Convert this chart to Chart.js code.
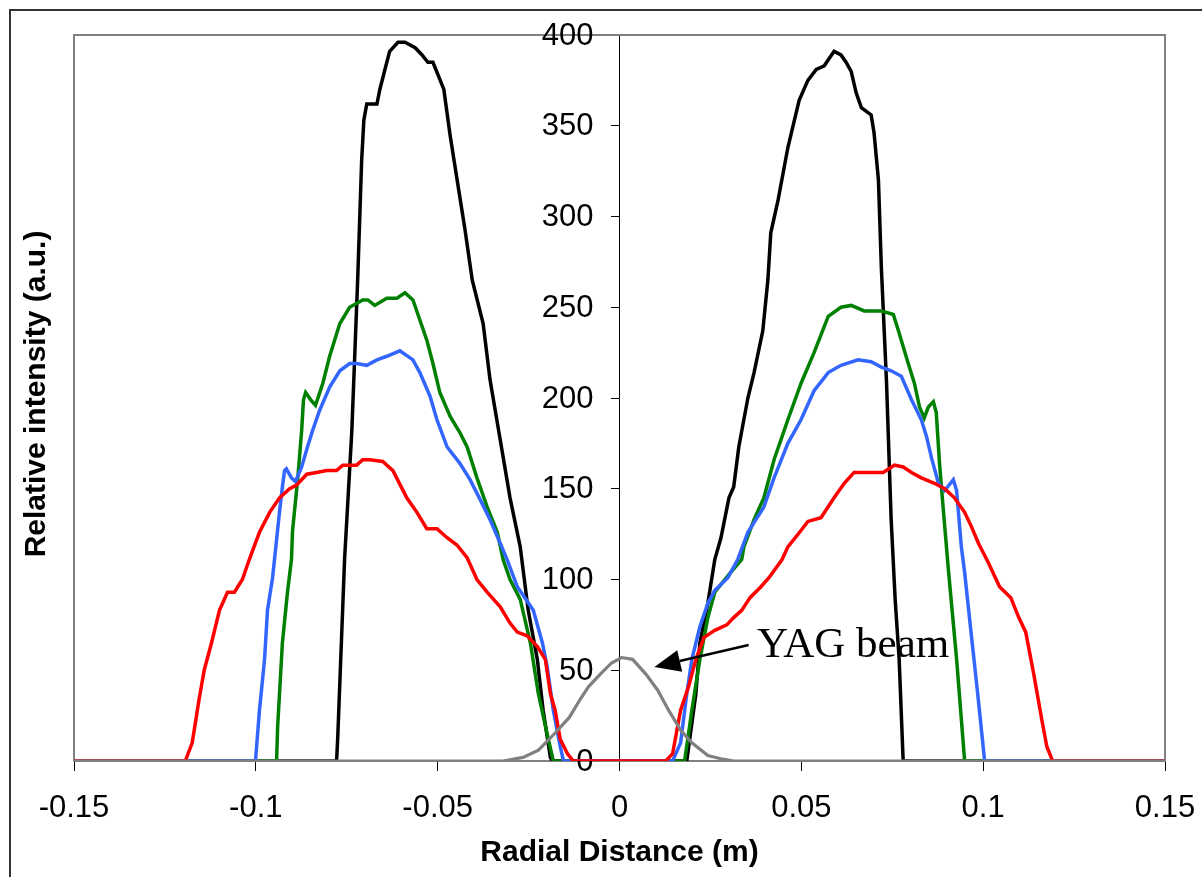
<!DOCTYPE html>
<html lang="en">
<head>
  <meta charset="UTF-8">
  <title>Radial intensity profiles</title>
  <style>
    body {
      margin: 0;
      padding: 0;
      background: white;
    }
    canvas {
      display: block;
    }
  </style>
  <script src="https://cdn.jsdelivr.net/npm/chart.js"></script>
</head>
<body>
  <canvas id="profileChart" width="1202" height="877"></canvas>

  <script>
    // values (x in m, y in a.u.)
    const xTicks = [-0.15, -0.1, -0.05, 0, 0.05, 0.1, 0.15];
    const yTicks = [0, 50, 100, 150, 200, 250, 300, 350, 400];

    const blackX = [-0.15, -0.0778, -0.0775, -0.0756, -0.0736, -0.0720, -0.0709, -0.0703, -0.0695, -0.0667,
      -0.0659, -0.0645, -0.0632, -0.0609, -0.0590, -0.0562, -0.0543, -0.0527, -0.0513, -0.0499,
      -0.0483, -0.0466, -0.0444, -0.0425, -0.0405, -0.0375, -0.0356, -0.0328, -0.0301, -0.0273,
      -0.0251, -0.0226, -0.0210, -0.0190, -0.0185, 0.0185, 0.0193, 0.0210, 0.0221, 0.0243,
      0.0262, 0.0279, 0.0301, 0.0314, 0.0328, 0.0353, 0.0370, 0.0394, 0.0408, 0.0416,
      0.0436, 0.0463, 0.0494, 0.0518, 0.0541, 0.0563, 0.0590, 0.0609, 0.0623, 0.0637,
      0.0651, 0.0665, 0.0692, 0.0700, 0.0712, 0.0720, 0.0734, 0.0747, 0.0758, 0.0769,
      0.0780, 0.15];
    const blackY = [0, 0, 12, 111, 182, 265, 331, 353, 362, 362,
      370, 381, 391, 396, 396, 393, 389, 385, 385, 378,
      370, 345, 317, 293, 265, 241, 210, 177, 145, 118,
      83, 56, 28, 2, 0, 0, 12, 37, 65, 87,
      111, 123, 145, 151, 173, 200, 214, 237, 265, 291,
      309, 338, 364, 375, 381, 383, 391, 389, 385, 380,
      368, 360, 356, 346, 320, 272, 210, 133, 89, 56,
      0, 0];

    const greenX = [-0.15, -0.0943, -0.0940, -0.0927, -0.0913, -0.0902, -0.0899, -0.0885, -0.0874, -0.0869,
      -0.0863, -0.0849, -0.0836, -0.0816, -0.0797, -0.0769, -0.0742, -0.0706, -0.0692, -0.0673,
      -0.0640, -0.0612, -0.0590, -0.0568, -0.0549, -0.0530, -0.0513, -0.0494, -0.0466, -0.0439,
      -0.0419, -0.0392, -0.0364, -0.0336, -0.0320, -0.0301, -0.0273, -0.0245, -0.0223, -0.0199,
      -0.0182, 0.0179, 0.0199, 0.0221, 0.0243, 0.0262, 0.0306, 0.0336, 0.0342, 0.0370,
      0.0397, 0.0425, 0.0463, 0.0499, 0.0535, 0.0574, 0.0609, 0.0637, 0.0673, 0.0720,
      0.0753, 0.0767, 0.0794, 0.0811, 0.0825, 0.0838, 0.0849, 0.0863, 0.0871, 0.0880,
      0.0891, 0.0905, 0.0927, 0.0949, 0.15];
    const greenY = [0, 0, 19, 65, 93, 111, 127, 155, 182, 199,
      203, 199, 196, 208, 223, 241, 250, 254, 254, 251,
      255, 255, 258, 254, 243, 232, 219, 203, 190, 181,
      173, 156, 140, 126, 111, 100, 89, 65, 37, 15,
      0, 0, 28, 56, 79, 93, 104, 111, 118, 133,
      145, 166, 188, 208, 225, 245, 250, 251, 248, 248,
      246, 237, 219, 208, 195, 189, 195, 198, 192, 164,
      137, 104, 56, 0, 0];

    const blueX = [-0.15, -0.1001, -0.0990, -0.0976, -0.0968, -0.0954, -0.0935, -0.0927, -0.0921, -0.0916,
      -0.0902, -0.0891, -0.0874, -0.0858, -0.0844, -0.0825, -0.0797, -0.0769, -0.0742, -0.0723,
      -0.0695, -0.0667, -0.0640, -0.0604, -0.0568, -0.0549, -0.0521, -0.0502, -0.0474, -0.0439,
      -0.0411, -0.0383, -0.0356, -0.0328, -0.0309, -0.0281, -0.0237, -0.0212, -0.0199, -0.0182,
      -0.0163, -0.0154, 0.0146, 0.0168, 0.0185, 0.0199, 0.0221, 0.0243, 0.0262, 0.0298,
      0.0325, 0.0353, 0.0397, 0.0425, 0.0463, 0.0499, 0.0535, 0.0574, 0.0609, 0.0656,
      0.0692, 0.0720, 0.0747, 0.0775, 0.0803, 0.0830, 0.0844, 0.0858, 0.0877, 0.0894,
      0.0918, 0.0927, 0.0932, 0.0940, 0.0949, 0.0965, 0.0985, 0.1004, 0.15];
    const blueY = [0, 0, 28, 56, 83, 101, 137, 151, 160, 161,
      156, 154, 162, 173, 182, 193, 206, 215, 219, 219,
      218, 221, 223, 226, 221, 214, 201, 188, 173, 164,
      155, 144, 133, 120, 111, 96, 83, 65, 52, 28,
      8, 0, 0, 10, 37, 56, 74, 87, 94, 101,
      111, 126, 140, 156, 175, 188, 204, 214, 218, 221,
      220, 217, 215, 212, 199, 188, 179, 167, 153, 149,
      155, 149, 137, 118, 104, 74, 37, 0, 0];

    const redX = [-0.15, -0.1194, -0.1175, -0.1156, -0.1142, -0.1122, -0.1100, -0.1078, -0.1059, -0.1037,
      -0.1018, -0.0990, -0.0962, -0.0935, -0.0907, -0.0888, -0.0860, -0.0833, -0.0805, -0.0778,
      -0.0761, -0.0723, -0.0706, -0.0687, -0.0651, -0.0623, -0.0585, -0.0557, -0.0530, -0.0502,
      -0.0474, -0.0447, -0.0419, -0.0392, -0.0364, -0.0328, -0.0301, -0.0281, -0.0254, -0.0226,
      -0.0204, -0.0190, -0.0177, -0.0163, -0.0143, -0.0127, 0.0127, 0.0146, 0.0168, 0.0190,
      0.0210, 0.0232, 0.0262, 0.0295, 0.0314, 0.0336, 0.0359, 0.0389, 0.0411, 0.0447,
      0.0463, 0.0499, 0.0518, 0.0554, 0.0590, 0.0618, 0.0645, 0.0684, 0.0725, 0.0756,
      0.0780, 0.0803, 0.0830, 0.0866, 0.0894, 0.0921, 0.0949, 0.0968, 0.0987, 0.1015,
      0.1045, 0.1076, 0.1098, 0.1117, 0.1139, 0.1161, 0.1175, 0.1191, 0.15];
    const redY = [0, 0, 10, 34, 50, 65, 83, 93, 93, 100,
      111, 126, 137, 145, 150, 152, 158, 159, 160, 160,
      163, 163, 166, 166, 165, 160, 145, 137, 128, 128,
      123, 119, 112, 100, 93, 85, 76, 71, 69, 63,
      56, 37, 28, 12, 4, 0, 0, 4, 28, 41,
      56, 68, 72, 75, 79, 83, 90, 96, 101, 111,
      118, 127, 132, 134, 145, 153, 159, 159, 159, 163,
      162, 159, 156, 153, 150, 145, 137, 129, 120, 109,
      96, 90, 79, 71, 48, 23, 8, 0, 0];

    // YAG beam profile
    const yagX = [-0.15, -0.0320, -0.0265, -0.0223, -0.0179, -0.0138, -0.0108, -0.0085, -0.0052, -0.0022,
      0.0006, 0.0036, 0.0072, 0.0105, 0.0135, 0.0168, 0.0199, 0.0243, 0.0284, 0.0314, 0.15];
    const yagY = [0, 0, 2, 6, 15, 24, 34, 41, 48, 54,
      57, 56, 48, 39, 28, 17, 10, 3, 1, 0, 0];

    // annotation anchors in data units
    const yagLabel = { text: 'YAG beam', x: 0.0378, y: 57.3 };
    const yagArrow = { fromX: 0.0355, fromY: 63.9, toX: 0.0096, toY: 51.8 };

    const toPoints = (xs, ys) => xs.map((x, i) => ({ x: x, y: ys[i] }));

    function line(label, xs, ys, color, width) {
      return {
        label: label,
        data: toPoints(xs, ys),
        borderColor: color,
        backgroundColor: color,
        borderWidth: width,
        showLine: true,
        pointRadius: 0,
        tension: 0,
        fill: false
      };
    }

    const fontFamily = '"Liberation Sans", Arial, sans-serif';

    const decor = {
      id: 'decor',
      beforeDraw(chart) {
        const ctx = chart.ctx;
        ctx.save();
        ctx.fillStyle = '#fff';
        ctx.fillRect(0, 0, chart.width, chart.height);
        // outer frame
        ctx.strokeStyle = '#333';
        ctx.lineWidth = 2;
        ctx.strokeRect(10, 10, chart.width + 10, chart.height + 10);
        ctx.restore();
      },
      beforeDatasetsDraw(chart) {
        const a = chart.chartArea;
        const ctx = chart.ctx;
        const ys = chart.scales.y;
        const axisX = chart.scales.x.getPixelForValue(0);
        ctx.save();
        ctx.strokeStyle = '#808080';
        ctx.lineWidth = 2;
        ctx.strokeRect(a.left, a.top, a.right - a.left, a.bottom - a.top);

        // y tick labels sit left of the centred axis
        ctx.fillStyle = '#000';
        ctx.font = '31px ' + fontFamily;
        ctx.textAlign = 'right';
        ctx.textBaseline = 'middle';
        ys.ticks.forEach(t => {
          ctx.fillText(String(t.value), axisX - 26, ys.getPixelForValue(t.value) + 1);
        });
        ctx.restore();
      },
      afterDraw(chart) {
        const ctx = chart.ctx;
        const xs = chart.scales.x;
        const ys = chart.scales.y;
        const a = chart.chartArea;
        ctx.save();

        // y axis title on the far left
        ctx.translate(45, (a.top + a.bottom) / 2 - 4);
        ctx.rotate(-Math.PI / 2);
        ctx.fillStyle = '#000';
        ctx.font = 'bold 30px ' + fontFamily;
        ctx.textAlign = 'center';
        ctx.textBaseline = 'alphabetic';
        ctx.fillText('Relative intensity (a.u.)', 0, 0);
        ctx.setTransform(1, 0, 0, 1, 0, 0);

        // YAG beam label and arrow
        ctx.font = '43px "Liberation Serif", "Times New Roman", serif';
        ctx.textAlign = 'left';
        ctx.fillText(yagLabel.text, xs.getPixelForValue(yagLabel.x), ys.getPixelForValue(yagLabel.y));

        const x1 = xs.getPixelForValue(yagArrow.fromX);
        const y1 = ys.getPixelForValue(yagArrow.fromY);
        const x2 = xs.getPixelForValue(yagArrow.toX);
        const y2 = ys.getPixelForValue(yagArrow.toY);
        const ang = Math.atan2(y2 - y1, x2 - x1);
        const headLen = 26, headW = 11;
        const bx = x2 - headLen * Math.cos(ang);
        const by = y2 - headLen * Math.sin(ang);
        ctx.strokeStyle = '#000';
        ctx.lineWidth = 2.5;
        ctx.beginPath();
        ctx.moveTo(x1, y1);
        ctx.lineTo(bx, by);
        ctx.stroke();
        ctx.beginPath();
        ctx.moveTo(x2, y2);
        ctx.lineTo(bx + headW * Math.sin(ang), by - headW * Math.cos(ang));
        ctx.lineTo(bx - headW * Math.sin(ang), by + headW * Math.cos(ang));
        ctx.closePath();
        ctx.fill();
        ctx.restore();
      }
    };

    const tickFont = { family: fontFamily, size: 31 };

    const profileCtx = document.getElementById('profileChart').getContext('2d');
    const profileChart = new Chart(profileCtx, {
      type: 'scatter',
      data: {
        // first dataset is painted last (on top)
        datasets: [
          line('YAG beam', yagX, yagY, '#808080', 3.2),
          line('Red', redX, redY, '#ff0000', 3.5),
          line('Blue', blueX, blueY, '#3366ff', 3.5),
          line('Green', greenX, greenY, '#008000', 3.5),
          line('Black', blackX, blackY, '#000000', 3.5)
        ]
      },
      options: {
        responsive: false,
        animation: false,
        devicePixelRatio: 1,
        layout: {
          padding: { left: 74, right: 37, top: 35, bottom: 0 }
        },
        scales: {
          x: {
            type: 'linear',
            position: 'bottom',
            min: xTicks[0],
            max: xTicks[xTicks.length - 1],
            afterBuildTicks: (scale) => { scale.ticks = xTicks.map(v => ({ value: v })); },
            afterFit: (scale) => {
              scale.height = 116;
              // end labels must not push the plot area inwards
              scale.paddingLeft = 0;
              scale.paddingRight = 0;
            },
            ticks: {
              font: tickFont,
              color: '#000',
              padding: 19,
              maxRotation: 0,
              callback: (v) => String(+v.toFixed(2))
            },
            grid: {
              drawOnChartArea: false,
              drawTicks: true,
              tickLength: 10,
              color: '#000'
            },
            border: { color: '#000', width: 1 },
            title: {
              display: true,
              text: 'Radial Distance (m)',
              color: '#000',
              font: { family: fontFamily, size: 30, weight: 'bold' },
              padding: { top: 0, bottom: 6 }
            }
          },
          y: {
            type: 'linear',
            position: { x: 0 },
            min: yTicks[0],
            max: yTicks[yTicks.length - 1],
            afterBuildTicks: (scale) => { scale.ticks = yTicks.map(v => ({ value: v })); },
            afterFit: (scale) => {
              scale.paddingTop = 0;
              scale.paddingBottom = 0;
            },
            ticks: {
              display: false
            },
            grid: {
              drawOnChartArea: false,
              drawTicks: true,
              tickLength: 8,
              color: '#000'
            },
            border: { color: '#000', width: 1 }
          }
        },
        plugins: {
          legend: { display: false },
          tooltip: { enabled: false }
        }
      },
      plugins: [decor]
    });
  </script>
</body>
</html>
